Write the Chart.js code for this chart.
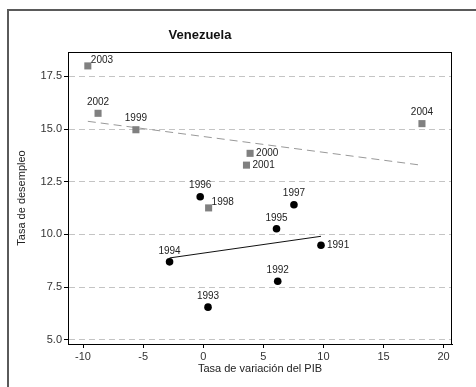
<!DOCTYPE html>
<html>
<head>
<meta charset="utf-8">
<script src="https://cdn.jsdelivr.net/npm/chart.js@4/dist/chart.umd.min.js"></script>
<style>
  html, body { margin: 0; padding: 0; background: #fff; }
  #wrap { position: relative; width: 476px; height: 387px; }
</style>
</head>
<body>
<div id="wrap"><canvas id="grafico"></canvas></div>
<script>
// Venezuela: PIB vs desempleo, 1991-1997 (círculos) y 1998-2004 (cuadrados)
const years1 = [1991, 1992, 1993, 1994, 1995, 1996, 1997];
const pib1 = [9.8, 6.2, 0.4, -2.8, 6.1, -0.25, 7.55];
const paro1 = [9.49, 7.78, 6.55, 8.70, 10.27, 11.79, 11.41];

const years2 = [1998, 1999, 2000, 2001, 2002, 2003, 2004];
const pib2 = [0.45, -5.6, 3.9, 3.6, -8.75, -9.6, 18.2];
const paro2 = [11.26, 14.97, 13.85, 13.29, 15.75, 18.0, 15.26];

const xTicks = [-10, -5, 0, 5, 10, 15, 20];
const yTicks = [5.0, 7.5, 10.0, 12.5, 15.0, 17.5];

// posición de la etiqueta del año respecto al punto (por defecto encima)
const labelSide = { 2003: 'ne', 1998: 'ne', 2000: 'e', 2001: 'e', 1991: 'e' };

function points(xs, ys) {
  return xs.map((x, i) => ({ x: x, y: ys[i] }));
}

// recta de mínimos cuadrados entre el x mínimo y el máximo
function fit(xs, ys) {
  const n = xs.length;
  const mx = xs.reduce((a, b) => a + b, 0) / n;
  const my = ys.reduce((a, b) => a + b, 0) / n;
  let sxy = 0, sxx = 0;
  xs.forEach((x, i) => { sxy += (x - mx) * (ys[i] - my); sxx += (x - mx) * (x - mx); });
  const b = sxy / sxx;
  const a = my - b * mx;
  const x0 = Math.min(...xs), x1 = Math.max(...xs);
  return [{ x: x0, y: a + b * x0 }, { x: x1, y: a + b * x1 }];
}

const decor = {
  id: 'decor',
  beforeDraw(chart) {
    const ctx = chart.ctx;
    ctx.save();
    ctx.fillStyle = '#fff';
    ctx.fillRect(0, 0, chart.width, chart.height);
    ctx.strokeStyle = '#5a5a5a';
    ctx.lineWidth = 2;
    ctx.beginPath();
    ctx.moveTo(8, chart.height);
    ctx.lineTo(8, 10);
    ctx.lineTo(chart.width, 10);
    ctx.stroke();
    ctx.restore();
  },
  afterDatasetsDraw(chart) {
    const ctx = chart.ctx;
    ctx.save();
    ctx.font = "10px 'Liberation Sans', Arial, sans-serif";
    ctx.fillStyle = '#222';
    [[0, years1], [2, years2]].forEach(([di, yrs]) => {
      chart.getDatasetMeta(di).data.forEach((pt, i) => {
        const side = labelSide[yrs[i]] || 'n';
        if (side === 'e') {
          ctx.textAlign = 'left'; ctx.textBaseline = 'middle';
          ctx.fillText(yrs[i], pt.x + 6, pt.y);
        } else if (side === 'ne') {
          ctx.textAlign = 'left'; ctx.textBaseline = 'middle';
          ctx.fillText(yrs[i], pt.x + 3, pt.y - 6);
        } else {
          ctx.textAlign = 'center'; ctx.textBaseline = 'middle';
          ctx.fillText(yrs[i], pt.x, pt.y - 11);
        }
      });
    });
    ctx.restore();
  },
  afterDraw(chart) {
    const ctx = chart.ctx;
    const a = chart.chartArea;
    ctx.save();
    ctx.strokeStyle = '#000';
    ctx.lineWidth = 1;
    ctx.strokeRect(Math.round(a.left) + 0.5, Math.round(a.top) + 0.5,
      Math.round(a.right - a.left) - 1, Math.round(a.bottom - a.top));
    ctx.font = "bold 13px 'Liberation Sans', Arial, sans-serif";
    ctx.fillStyle = '#111';
    ctx.textAlign = 'center';
    ctx.textBaseline = 'middle';
    ctx.fillText('Venezuela', 200, 35);
    ctx.restore();
  }
};

const tickFont = { family: "'Liberation Sans', Arial, sans-serif", size: 11 };

new Chart(document.getElementById('grafico'), {
  type: 'scatter',
  data: {
    datasets: [
      {
        data: points(pib1, paro1),
        pointStyle: 'circle',
        pointRadius: 3.8,
        backgroundColor: '#000',
        borderColor: '#000',
        borderWidth: 0
      },
      {
        type: 'line',
        data: fit(pib1, paro1),
        borderColor: '#111',
        borderWidth: 1,
        pointRadius: 0,
        fill: false
      },
      {
        data: points(pib2, paro2),
        pointStyle: 'rect',
        pointRadius: 5,
        backgroundColor: '#808080',
        borderColor: '#808080',
        borderWidth: 0
      },
      {
        type: 'line',
        data: fit(pib2, paro2),
        borderColor: '#999',
        borderWidth: 1,
        borderDash: [8, 5],
        pointRadius: 0,
        fill: false
      }
    ]
  },
  options: {
    responsive: true,
    maintainAspectRatio: false,
    animation: false,
    layout: { padding: { top: 52, right: 24, left: 0, bottom: 0 } },
    plugins: {
      legend: { display: false },
      tooltip: { enabled: false },
      title: { display: false }
    },
    scales: {
      x: {
        type: 'linear',
        min: -11.25,
        max: 20.7,
        afterBuildTicks: s => { s.ticks = xTicks.map(v => ({ value: v })); },
        afterFit: s => { s.height = 43; },
        grid: { drawOnChartArea: false, drawTicks: true, tickLength: 4, tickColor: '#000' },
        border: { color: '#000' },
        ticks: { font: tickFont, color: '#333', padding: 2, maxRotation: 0 },
        title: {
          display: true,
          text: 'Tasa de variación del PIB',
          font: tickFont,
          color: '#222',
          padding: { top: 0, bottom: 11 }
        }
      },
      y: {
        type: 'linear',
        min: 4.8,
        max: 18.66,
        afterBuildTicks: s => { s.ticks = yTicks.map(v => ({ value: v })); },
        afterFit: s => { s.width = 68; },
        grid: {
          color: '#c4c4c4',
          tickLength: 4,
          tickColor: '#000',
          tickBorderDash: []
        },
        // en v4 el trazo discontinuo de la rejilla va en border.dash
        border: { color: '#000', dash: [6, 4] },
        ticks: {
          font: tickFont,
          color: '#333',
          padding: 2,
          callback: v => v.toFixed(1)
        },
        title: {
          display: true,
          text: 'Tasa de desempleo',
          font: tickFont,
          color: '#222',
          padding: { top: 15, bottom: 0 }
        }
      }
    }
  },
  plugins: [decor]
});
</script>
</body>
</html>
